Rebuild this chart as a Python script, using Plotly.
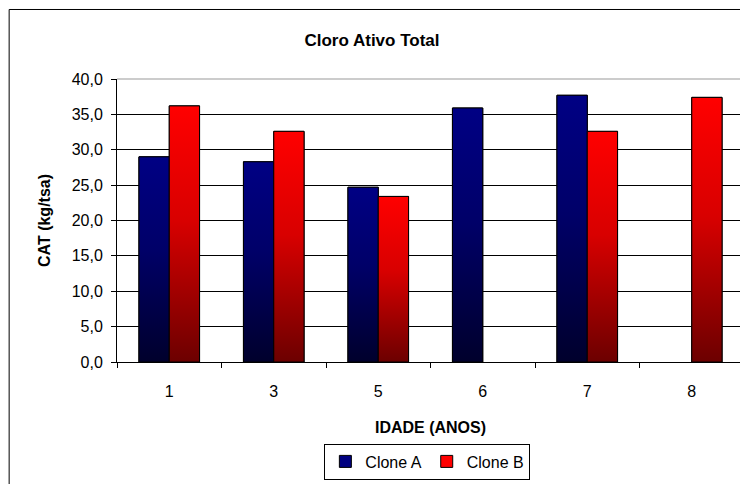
import plotly.graph_objects as go

# Cloro Ativo Total por idade
idades = ["1", "3", "5", "6", "7", "8"]
clone_a = [29.0, 28.3, 24.7, 35.9, 37.7, None]
clone_b = [36.2, 32.6, 23.4, None, 32.6, 37.4]

FONT = "Arial, Liberation Sans, sans-serif"
BAR_W = 0.29

series = [
    ("Clone A", clone_a, -BAR_W, "#000080", [[0, "#00002c"], [0.55, "#000068"], [1, "#000084"]]),
    ("Clone B", clone_b, 0.0, "#ff0000", [[0, "#6c0000"], [0.55, "#d80000"], [1, "#ff0000"]]),
]

pos = list(range(len(idades)))

fig = go.Figure()

# barras base (legenda e posicao)
for name, vals, off, col, cs in series:
    fig.add_trace(go.Bar(
        x=pos, y=vals, name=name, width=BAR_W, offset=off,
        marker=dict(color=col, line=dict(color="black", width=1)),
    ))

# gradiente por cima de cada barra
for name, vals, off, col, cs in series:
    for i, v in zip(pos, vals):
        if v is None:
            continue
        x0 = i + off
        x1 = x0 + BAR_W
        fig.add_trace(go.Scatter(
            x=[x0, x0, x1, x1, x0], y=[0, v, v, 0, 0],
            mode="lines", fill="toself",
            fillgradient=dict(type="vertical", colorscale=cs),
            line=dict(color="black", width=1),
            showlegend=False, hoverinfo="skip",
        ))

# a pagina tem margem de 8px, figura ajustada para isso
fig.update_layout(
    width=740, height=476,
    margin=dict(l=109, r=4, t=71, b=120),
    paper_bgcolor="white", plot_bgcolor="white",
    font=dict(family=FONT, size=16, color="black"),
    separators=",.",
    barmode="overlay",
    title=dict(text="<b>Cloro Ativo Total</b>", x=364 / 740, xref="container",
               y=1 - 32 / 476, yanchor="middle", xanchor="center",
               font=dict(size=17, family=FONT)),
    legend=dict(orientation="h", x=0.495, xanchor="center", y=-0.288, yanchor="top",
                bordercolor="black", borderwidth=1, font=dict(size=16),
                itemwidth=30, tracegroupgap=0),
    showlegend=True,
)

fig.update_xaxes(
    range=[-0.5, len(idades) - 0.5],
    tickmode="array", tickvals=pos, ticktext=idades,
    ticks="", showgrid=False, zeroline=False,
    showline=True, linecolor="black", linewidth=1,
    ticklabelstandoff=15,
    minor=dict(tickmode="array", tickvals=[i - 0.5 for i in range(len(idades) + 1)],
               ticks="outside", ticklen=5, tickcolor="black", showgrid=False),
    title=dict(text="<b>IDADE (ANOS)</b>", font=dict(size=16), standoff=22),
)

fig.update_yaxes(
    range=[0, 40], dtick=5, tickformat=".1f",
    ticks="outside", ticklen=5, tickcolor="black",
    showgrid=True, gridcolor="black", gridwidth=1, zeroline=False,
    showline=True, linecolor="black", linewidth=1,
    ticklabelstandoff=5,
    title=dict(text="<b>CAT (kg/tsa)</b>", font=dict(size=16), standoff=17),
)

# borda da area de plotagem (cinza) e moldura do grafico
fig.add_shape(type="line", xref="paper", yref="paper", x0=0, x1=1, y0=1, y1=1,
              line=dict(color="#999999", width=1))
fig.add_shape(type="line", xref="paper", yref="paper", x0=1, x1=1, y0=0, y1=1,
              line=dict(color="#999999", width=1))
fig.add_shape(type="rect", xref="paper", yref="paper",
              x0=-0.172, x1=1.06, y0=-0.5, y1=1.2456,
              line=dict(color="black", width=1))

fig.write_html("out.html")
